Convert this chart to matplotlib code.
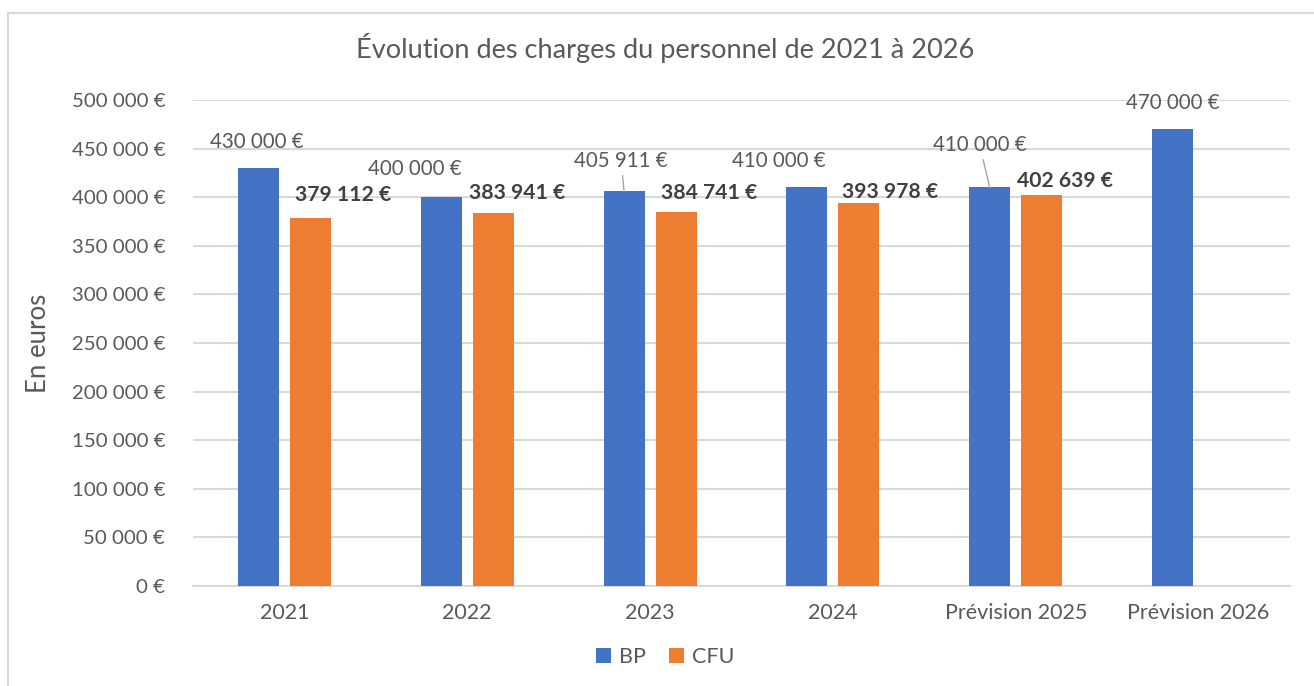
import matplotlib
matplotlib.use("Agg")
import matplotlib.pyplot as plt
from matplotlib.lines import Line2D
from matplotlib.patches import Patch
import numpy as np

categories = ["2021", "2022", "2023", "2024", "Prévision 2025", "Prévision 2026"]
bp_values = [430000, 400000, 405911, 410000, 410000, 470000]
cfu_values = [379112, 383941, 384741, 393978, 402639, None]
yticks = [0, 50000, 100000, 150000, 200000, 250000, 300000, 350000, 400000, 450000, 500000]
title = "Évolution des charges du personnel de 2021 à 2026"
ylabel = "En euros"
series_names = ["BP", "CFU"]

# label offsets in pixels (dx, dy) relative to bar top centre -- layout only
bp_offsets = [(-1.5, 26), (-26, 28), (-3, 30), (-28, 26), (-10, 42), (0, 26)]
bp_leader = [False, False, True, False, True, False]
cfu_offsets = [(33, 23), (24, 20), (33, 19), (31, 11), (23, 14)]

BLUE = "#4472C4"
ORANGE = "#ED7D31"
TXT = "#595959"
GRID = "#D9D9D9"

plt.rcParams['font.family'] = ['Lato', 'DejaVu Sans']

def fmt(v):
    s = f"{int(v):,}".replace(",", " ")
    return f"{s} €"

W, H = 1314, 686
fig = plt.figure(figsize=(W / 100, H / 100), dpi=100)
ax = fig.add_axes([193 / W, 1 - 586 / H, (1290 - 193) / W, (586 - 100) / H])

# chart border (top and left visible)
fig.add_artist(Line2D([8 / W, 8 / W], [0, 1 - 13 / H], transform=fig.transFigure, color=GRID, lw=1.5))
fig.add_artist(Line2D([8 / W, 1], [1 - 13 / H, 1 - 13 / H], transform=fig.transFigure, color=GRID, lw=1.5))

x = np.arange(len(categories))
bw = 41 / 182.8
gap = 11 / 182.8
xb = x - (bw + gap) / 2
xc = x + (bw + gap) / 2

ax.bar(xb, bp_values, width=bw, color=BLUE, zorder=3)
cfu_x = [xc[i] for i, v in enumerate(cfu_values) if v is not None]
cfu_v = [v for v in cfu_values if v is not None]
ax.bar(cfu_x, cfu_v, width=bw, color=ORANGE, zorder=3)

ax.set_xlim(-0.5, len(categories) - 0.5)
ax.set_ylim(0, 500000)
ax.set_yticks(yticks)
ax.set_yticklabels([fmt(v) for v in yticks], fontsize=14.7, color=TXT)
ax.set_xticks(x)
ax.set_xticklabels(categories, fontsize=15.5, color=TXT)
ax.tick_params(axis='both', length=0)
ax.tick_params(axis='y', pad=20)
ax.tick_params(axis='x', pad=12)
ax.grid(axis='y', color=GRID, lw=1.5, zorder=0)
ax.set_axisbelow(True)
for s in ["top", "right", "left"]:
    ax.spines[s].set_visible(False)
ax.spines["bottom"].set_color(GRID)
ax.spines["bottom"].set_linewidth(1.5)

for i, v in enumerate(bp_values):
    dx, dy = bp_offsets[i]
    kw = {}
    if bp_leader[i]:
        kw["arrowprops"] = dict(arrowstyle='-', color="#A6A6A6", lw=1.0, shrinkA=1, shrinkB=0)
    ax.annotate(fmt(v), xy=(xb[i], v), xytext=(dx, dy), textcoords='offset pixels',
                ha='center', va='center', fontsize=14.8, color=TXT, zorder=5, **kw)
for i, v in enumerate(cfu_values):
    if v is None:
        continue
    dx, dy = cfu_offsets[i]
    ax.annotate(fmt(v), xy=(xc[i], v), xytext=(dx, dy), textcoords='offset pixels',
                ha='center', va='center', fontsize=15.2, color="#404040", fontweight='bold', zorder=5)

fig.text(665 / W, 1 - 48 / H, title, ha='center', va='center', fontsize=19.5, color=TXT)
fig.text(38 / W, 1 - 343 / H, ylabel, ha='center', va='center', rotation=90, fontsize=18.5, color=TXT)

handles = [Patch(facecolor=BLUE), Patch(facecolor=ORANGE)]
leg = fig.legend(handles, series_names, loc='center', bbox_to_anchor=(665 / W, 1 - 657 / H),
                 ncol=2, frameon=False, fontsize=15.5, handlelength=0.7, handleheight=0.7,
                 handletextpad=0.35, columnspacing=1.1)
for t in leg.get_texts():
    t.set_color(TXT)

fig.savefig("out.png", dpi=100)
